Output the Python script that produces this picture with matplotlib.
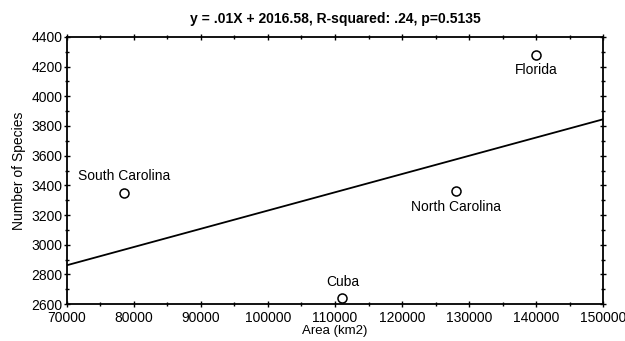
import numpy as np
import matplotlib.pyplot as plt
from matplotlib.ticker import MultipleLocator

plt.rcParams['font.family'] = ['Liberation Sans', 'DejaVu Sans']

# data
places = ['South Carolina', 'Cuba', 'North Carolina', 'Florida']
area = [78500, 111100, 128000, 140000]
species = [3350, 2640, 3360, 4280]
label_pos = ['above', 'above', 'below', 'below']

x_ticks = [70000, 80000, 90000, 100000, 110000, 120000, 130000, 140000, 150000]
y_ticks = [2600, 2800, 3000, 3200, 3400, 3600, 3800, 4000, 4200, 4400]

fig = plt.figure(figsize=(6.25, 3.41), dpi=100)
ax = fig.add_axes([0.107, 0.108, 0.858, 0.784])

# regression line
slope, intercept = np.polyfit(area, species, 1)
xs = np.array([x_ticks[0], x_ticks[-1]])
ax.plot(xs, slope * xs + intercept, color='black', lw=1.3)

ax.plot(area, species, 'o', mfc='white', mec='black', ms=6.5, mew=1.1, ls='none')

for name, x, y, pos in zip(places, area, species, label_pos):
    if pos == 'above':
        ax.annotate(name, (x, y), xytext=(0, 7), textcoords='offset points',
                    ha='center', va='bottom', fontsize=10)
    else:
        ax.annotate(name, (x, y), xytext=(0, -6), textcoords='offset points',
                    ha='center', va='top', fontsize=10)

ax.set_xlim(x_ticks[0], x_ticks[-1])
ax.set_ylim(y_ticks[0], y_ticks[-1])
ax.set_xticks(x_ticks)
ax.set_yticks(y_ticks)
ax.xaxis.set_minor_locator(MultipleLocator(5000))
ax.yaxis.set_minor_locator(MultipleLocator(100))
ax.tick_params(which='both', direction='inout', top=True, right=True,
               labelsize=10, width=1)
ax.tick_params(which='major', length=4)
ax.tick_params(which='minor', length=2.5)
ax.tick_params(axis='x', which='major', pad=3)
ax.tick_params(axis='y', which='major', pad=1)
for s in ax.spines.values():
    s.set_linewidth(1.3)

ax.set_xlabel('Area (km2)', fontsize=9.5, labelpad=0)
ax.set_ylabel('Number of Species', fontsize=10, labelpad=4)
ax.set_title('y = .01X + 2016.58, R-squared: .24, p=0.5135',
             fontsize=10, fontweight='bold', pad=10)

fig.savefig('out.png', dpi=100)
